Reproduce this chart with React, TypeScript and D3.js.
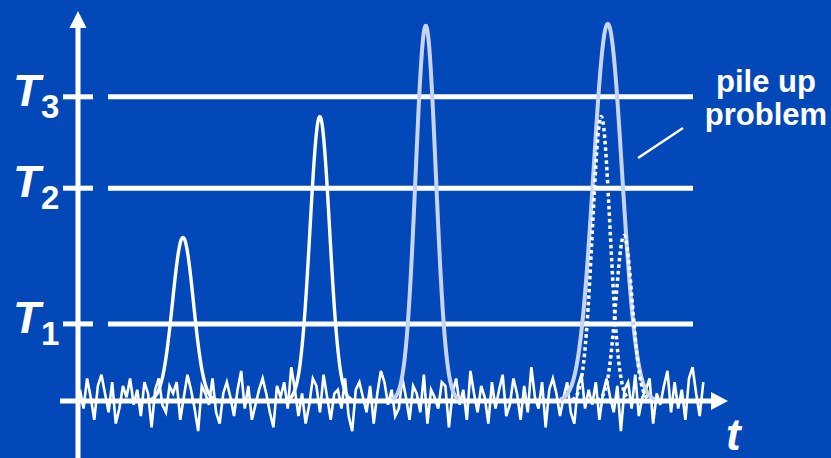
import React from "react";
import * as d3 from "d3";

// ---- data ----
const thresholdNames = ["1", "2", "3"];
const thresholdValues = [20.5, 56.6, 80.9];

// solid pulses: centre (time), amplitude, width (sigma), light colour?
const pulseCenters = [16.15, 37.2, 53.5, 81.5];
const pulseAmps = [43.6, 75.8, 100, 100.5];
const pulseSigmas = [1.6, 1.5, 1.55, 2.2];
const pulseLight = [false, false, true, true];

// dotted (underlying, piled-up) pulses
const dottedCenters = [80.5, 84.0];
const dottedAmps = [75.8, 44.1];
const dottedSigmas = [1.35, 1.25];

// noise samples (baseline fluctuation)
const noise = [
  3, -2, 6, 1, -5, 4, 7, 2, -3, 5, -6, -2, 4, 1, 6, -1, 3, -4, 5, 2, -7, 3, 6, -1, -3, 4, 2, 5, -5, 1,
  7, 3, -2, -8, 4, 2, -1, 6, -3, -6, 2, 5, 1, -4, 3, 8, -2, 4, -5, -1, 3, 6, 2, -3, -7, 4, 1, 5, -2, 9,
  3, -4, 2, -6, -1, 6, 4, -3, 7, 1, -5, 2, 3, -2, 6, -4, -8, 3, 5, 1, -3, 4, -6, 2, 8, 5, -1, 3, -4, -2,
  6, 1, -5, 4, 2, -3, 7, -6, 3, 1, -2, 5, 4, -7, 2, 6, -1, 3, -5, 8, 2, -3, 4, 1, -6, 5, -2, 3, 7, -4,
  -1, 6, 2, -5, 4, -3, 9, 1, -2, 5, -7, 3, 6, 2, -4, 1, 5, -3, -6, 4, 7, -2, 3, -1, 5, -5, 2, 6, 1, -3,
  4, -8, 3, 5, -2, 7, -4, 1, 3, 6, -6, 2, -1, 4, 8, -3, 5, -2, 3, -5, 6, 9, 2, -4, 5,
];
const noiseStart = 0.3;
const noiseEnd = 96.2;

const W = 831;
const H = 458;
const BG = "#0348B9";
const LIGHT = "#C7D4F0";
const FONT = "Liberation Sans, Arial, sans-serif";

export default function App() {
  const x = d3.scaleLinear().domain([0, 100]).range([78, 728]);
  const y = d3.scaleLinear().domain([0, 100]).range([401, 25]);
  const idx = d3.scaleLinear().domain([0, noise.length - 1]).range([noiseStart, noiseEnd]);

  const line = d3
    .line<[number, number]>()
    .x((d) => x(d[0]))
    .y((d) => y(d[1]))
    .curve(d3.curveBasis);

  const noiseLine = d3
    .line<number>()
    .x((_, i) => x(idx(i)))
    .y((d) => y(d));

  const pulsePts = (c: number, a: number, s: number) =>
    d3.range(-3.3, 3.3001, 0.1).map((k) => [c + k * s, a * Math.exp(-(k * k) / 2)] as [number, number]);

  const axisX = x(0);
  const axisY = y(0);

  return (
    <svg width={W} height={H} style={{ position: "absolute", left: 0, top: 0 }}>
      <rect width={W} height={H} fill={BG} />

      {/* threshold lines */}
      {thresholdValues.map((t, i) => (
        <g key={i}>
          <line x1={63} x2={93} y1={y(t)} y2={y(t)} stroke="#fff" strokeWidth={5} />
          <line x1={108} x2={693} y1={y(t)} y2={y(t)} stroke="#fff" strokeWidth={5} />
          <text x={13} y={y(t) + 9} fill="#fff" fontFamily={FONT} fontWeight="bold" fontStyle="italic" fontSize={45}>
            T
          </text>
          <text x={41} y={y(t) + 21} fill="#fff" fontFamily={FONT} fontWeight="bold" fontSize={33}>
            {thresholdNames[i]}
          </text>
        </g>
      ))}

      {/* noise */}
      <path d={noiseLine(noise) ?? ""} fill="none" stroke="#fff" strokeWidth={2.6} strokeLinejoin="miter" />

      {/* axes */}
      <line x1={axisX} x2={axisX} y1={H} y2={24} stroke="#fff" strokeWidth={5} />
      <path d={`M${axisX},11 L${axisX - 8.5},28 L${axisX + 8.5},28 Z`} fill="#fff" />
      <line x1={60} x2={714} y1={axisY} y2={axisY} stroke="#fff" strokeWidth={5} />
      <path d={`M728,${axisY} L711,${axisY - 9} L711,${axisY + 9} Z`} fill="#fff" />

      {/* pulses */}
      {pulseCenters.map((c, i) => (
        <path
          key={i}
          d={line(pulsePts(c, pulseAmps[i], pulseSigmas[i])) ?? ""}
          fill="none"
          stroke={pulseLight[i] ? LIGHT : "#fff"}
          strokeWidth={pulseLight[i] ? 4 : 3.4}
        />
      ))}
      {dottedCenters.map((c, i) => (
        <path
          key={"d" + i}
          d={line(pulsePts(c, dottedAmps[i], dottedSigmas[i])) ?? ""}
          fill="none"
          stroke="#fff"
          strokeWidth={3.5}
          strokeDasharray="3.5 3"
        />
      ))}

      {/* annotation */}
      <line x1={638} y1={158} x2={683} y2={128} stroke="#fff" strokeWidth={2.5} />
      <text x={766} y={92} textAnchor="middle" fill="#fff" fontFamily={FONT} fontWeight="bold" fontSize={31}>
        pile up
      </text>
      <text x={766} y={125} textAnchor="middle" fill="#fff" fontFamily={FONT} fontWeight="bold" fontSize={31}>
        problem
      </text>
      <text x={726} y={450} fill="#fff" fontFamily={FONT} fontWeight="bold" fontStyle="italic" fontSize={44}>
        t
      </text>
    </svg>
  );
}
